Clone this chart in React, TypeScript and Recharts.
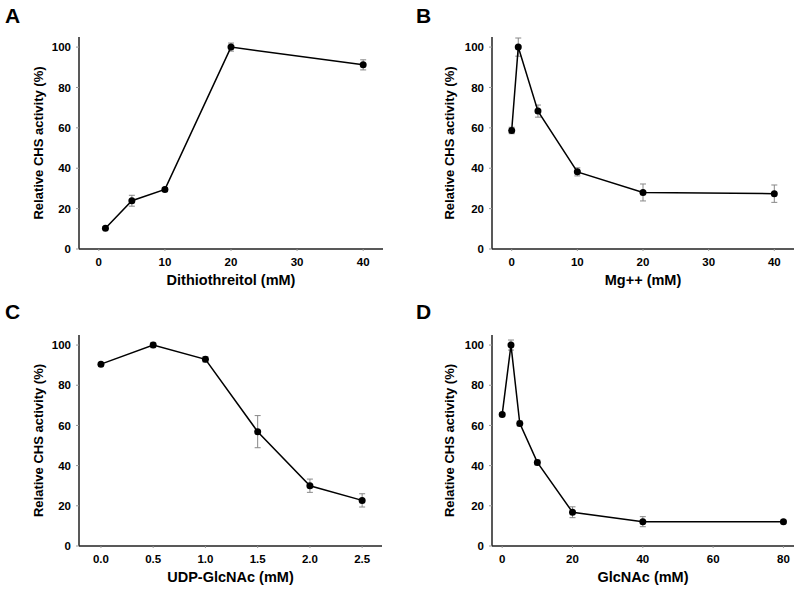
import React from 'react';
import { LineChart, Line, XAxis, YAxis, ErrorBar } from 'recharts';

// Panel A: Dithiothreitol
const dttConc = [1, 5, 10, 20, 40];
const dttActivity = [10.3, 23.9, 29.5, 100, 91.2];
const dttError = [0.6, 2.7, 1.0, 2.0, 2.5];

// Panel B: Mg++
const mgConc = [0, 1, 4, 10, 20, 40];
const mgActivity = [58.7, 100, 68.3, 38.2, 28.0, 27.4];
const mgError = [1.6, 4.5, 3.0, 2.0, 4.2, 4.3];

// Panel C: UDP-GlcNAc
const udpConc = [0, 0.5, 1.0, 1.5, 2.0, 2.5];
const udpActivity = [90.5, 100, 92.9, 56.9, 30.0, 22.7];
const udpError = [0.8, 1.3, 1.3, 8.0, 3.3, 3.3];

// Panel D: GlcNAc
const glcConc = [0, 2.5, 5, 10, 20, 40, 80];
const glcActivity = [65.5, 100, 61.0, 41.6, 16.8, 12.1, 12.1];
const glcError = [0.8, 2.5, 1.2, 1.2, 2.7, 2.5, 0.8];

const yTicks = [0, 20, 40, 60, 80, 100];
const dttTicks = [0, 10, 20, 30, 40];
const mgTicks = [0, 10, 20, 30, 40];
const udpTicks = [0, 0.5, 1.0, 1.5, 2.0, 2.5];
const glcTicks = [0, 20, 40, 60, 80];

const FONT = '"Liberation Sans", Arial, Helvetica, sans-serif';

function build(xs: number[], ys: number[], es: number[]) {
  return xs.map((x, i) => ({ x, y: ys[i], err: es[i] }));
}

type PanelProps = {
  left: number;
  top: number;
  height: number;
  margin: { top: number; right: number; left: number; bottom: number };
  data: { x: number; y: number; err: number }[];
  xDomain: [number, number];
  xTicks: number[];
  xLabel: string;
  letter: string;
  yLabelOffset: number;
  tickFmt?: (v: number) => string;
};

function Panel(p: PanelProps) {
  const tickStyle = { fontSize: 11.5, fontWeight: 700, fill: '#000', fontFamily: FONT };
  return (
    <div style={{ position: 'absolute', left: p.left, top: p.top, width: 400, height: p.height }}>
      <div
        style={{
          position: 'absolute',
          left: p.left === 0 ? 5 : 16,
          top: 5,
          fontFamily: FONT,
          fontWeight: 700,
          fontSize: 21,
          lineHeight: '21px',
          color: '#000',
        }}
      >
        {p.letter}
      </div>
      <LineChart width={400} height={p.height} data={p.data} margin={p.margin}>
        <XAxis
          dataKey="x"
          type="number"
          domain={p.xDomain}
          ticks={p.xTicks}
          allowDataOverflow
          height={26}
          tick={tickStyle}
          tickSize={2}
          tickMargin={7}
          tickLine={{ stroke: '#999' }}
          axisLine={{ stroke: '#222', strokeWidth: 1.5 }}
          tickFormatter={p.tickFmt}
          label={{
            value: p.xLabel,
            position: 'bottom',
            offset: 0,
            style: { fontSize: 14.5, fontWeight: 700, fill: '#000', fontFamily: FONT },
          }}
        />
        <YAxis
          type="number"
          domain={[0, 105]}
          ticks={yTicks}
          allowDataOverflow
          width={50}
          tick={tickStyle}
          tickSize={3}
          tickMargin={5}
          tickLine={{ stroke: '#999' }}
          axisLine={{ stroke: '#222', strokeWidth: 1.5 }}
          label={{
            value: 'Relative CHS activity (%)',
            angle: -90,
            position: 'insideLeft',
            offset: p.yLabelOffset,
            style: { fontSize: 13, fontWeight: 700, fill: '#000', fontFamily: FONT, textAnchor: 'middle' },
          }}
        />
        <Line
          dataKey="y"
          type="linear"
          stroke="#000"
          strokeWidth={1.5}
          dot={{ r: 3.5, fill: '#000', stroke: '#000', strokeWidth: 0 }}
          isAnimationActive={false}
        >
          <ErrorBar dataKey="err" width={3} stroke="#888" strokeWidth={1} direction="y" />
        </Line>
      </LineChart>
    </div>
  );
}

export default function App() {
  return (
    <div style={{ position: 'absolute', left: 0, top: 0, width: 800, height: 593, background: '#fff', overflow: 'hidden' }}>
      <Panel
        left={0}
        top={0}
        height={296}
        margin={{ top: 37, right: 17, left: 29, bottom: 21 }}
        data={build(dttConc, dttActivity, dttError)}
        xDomain={[-3, 43]}
        xTicks={dttTicks}
        xLabel="Dithiothreitol (mM)"
        letter="A"
        yLabelOffset={9}
      />
      <Panel
        left={400}
        top={0}
        height={296}
        margin={{ top: 37, right: 6, left: 42, bottom: 21 }}
        data={build(mgConc, mgActivity, mgError)}
        xDomain={[-3, 43]}
        xTicks={mgTicks}
        xLabel="Mg++ (mM)"
        letter="B"
        yLabelOffset={7}
      />
      <Panel
        left={0}
        top={296}
        height={297}
        margin={{ top: 39, right: 18, left: 29, bottom: 21 }}
        data={build(udpConc, udpActivity, udpError)}
        xDomain={[-0.21, 2.69]}
        xTicks={udpTicks}
        xLabel="UDP-GlcNAc (mM)"
        letter="C"
        yLabelOffset={9}
        tickFmt={(v: number) => v.toFixed(1)}
      />
      <Panel
        left={400}
        top={296}
        height={297}
        margin={{ top: 39, right: 6, left: 42, bottom: 21 }}
        data={build(glcConc, glcActivity, glcError)}
        xDomain={[-2.9, 83]}
        xTicks={glcTicks}
        xLabel="GlcNAc (mM)"
        letter="D"
        yLabelOffset={7}
      />
    </div>
  );
}
